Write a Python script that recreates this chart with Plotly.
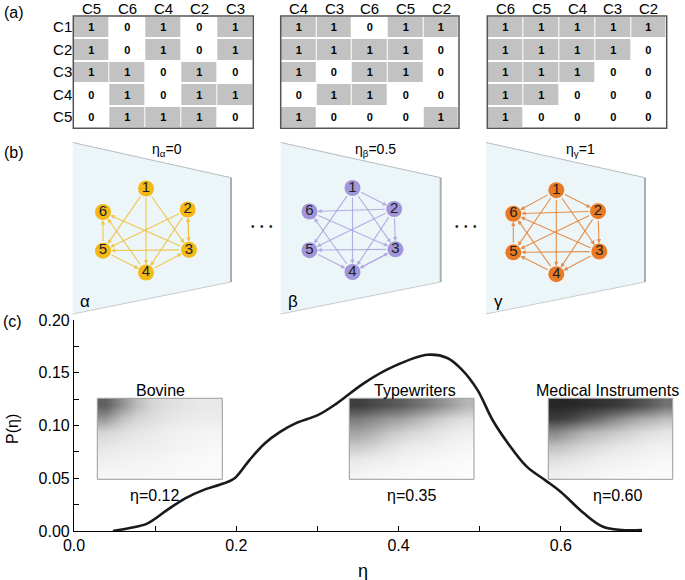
import plotly.graph_objects as go

W, H = 685, 580
FONT = "Arial, Liberation Sans, Helvetica, sans-serif"


def fx(p):
    return p / W


def fy(p):
    return 1 - p / H


# ---------------- data: panel (a) ----------------
rows = ["C1", "C2", "C3", "C4", "C5"]
m1_cols = ["C5", "C6", "C4", "C2", "C3"]
m2_cols = ["C4", "C3", "C6", "C5", "C2"]
m3_cols = ["C6", "C5", "C4", "C3", "C2"]
m1 = [[1, 0, 1, 0, 1], [1, 0, 1, 0, 1], [1, 1, 0, 1, 0], [0, 1, 0, 1, 1], [0, 1, 1, 1, 0]]
m2 = [[1, 1, 0, 1, 1], [1, 1, 1, 1, 0], [1, 0, 1, 1, 0], [0, 1, 1, 0, 0], [1, 0, 0, 0, 1]]
m3 = [[1, 1, 1, 1, 1], [1, 1, 1, 1, 0], [1, 1, 1, 0, 0], [1, 1, 0, 0, 0], [1, 0, 0, 0, 0]]

# ---------------- data: panel (b) ----------------
node_labels = ["1", "2", "3", "4", "5", "6"]
node_x = [0.0, 0.97, 1.0, 0.0, -1.0, -1.0]
node_y = [1.0, 0.5, -0.46, -1.0, -0.48, 0.44]
edges_alpha = [(1, 3), (1, 4), (1, 5), (2, 3), (3, 2), (2, 5), (2, 4), (3, 5), (3, 6),
               (4, 3), (4, 6), (5, 6), (5, 4)]
edges_beta = [(1, 2), (1, 3), (1, 4), (1, 5), (2, 6), (2, 3), (2, 5), (2, 4), (3, 5),
              (3, 4), (4, 3), (4, 6), (5, 4), (6, 3)]
edges_gamma = [(1, 6), (1, 2), (1, 5), (1, 4), (1, 3), (2, 6), (2, 5), (2, 3), (2, 4),
               (3, 5), (3, 6), (3, 4), (4, 6), (4, 5), (5, 6)]
net_sym = ["α", "β", "γ"]
net_eta = ["0", "0.5", "1"]

# ---------------- data: panel (c) ----------------
eta = [0.048, 0.070, 0.090, 0.115, 0.137, 0.160, 0.184, 0.198, 0.216, 0.235, 0.254,
       0.273, 0.301, 0.324, 0.357, 0.394, 0.436, 0.460, 0.478, 0.497, 0.516, 0.535,
       0.558, 0.581, 0.600, 0.628, 0.652, 0.675, 0.700]
p_eta = [0.000, 0.003, 0.007, 0.020, 0.031, 0.039, 0.045, 0.050, 0.067, 0.083, 0.094,
         0.102, 0.110, 0.121, 0.140, 0.156, 0.167, 0.164, 0.153, 0.134, 0.105, 0.083,
         0.061, 0.048, 0.037, 0.017, 0.004, 0.001, 0.001]
x_ticks = [0.0, 0.2, 0.4, 0.6]
y_ticks = [0.00, 0.05, 0.10, 0.15, 0.20]

inset_names = ["Bovine", "Typewriters", "Medical Instruments"]
inset_eta = ["0.12", "0.35", "0.60"]
bovine_density = [
    [0.70, 0.50, 0.30, 0.18, 0.14, 0.12, 0.10, 0.10],
    [0.45, 0.28, 0.18, 0.14, 0.11, 0.09, 0.08, 0.08],
    [0.18, 0.14, 0.11, 0.09, 0.07, 0.06, 0.05, 0.05],
    [0.11, 0.09, 0.08, 0.07, 0.06, 0.05, 0.04, 0.03],
    [0.07, 0.06, 0.05, 0.05, 0.04, 0.03, 0.03, 0.02],
    [0.04, 0.04, 0.04, 0.03, 0.03, 0.02, 0.02, 0.02],
]
typewriters_density = [
    [0.85, 0.80, 0.75, 0.70, 0.62, 0.52, 0.42, 0.32],
    [0.58, 0.52, 0.45, 0.40, 0.32, 0.24, 0.18, 0.14],
    [0.40, 0.34, 0.26, 0.20, 0.16, 0.12, 0.09, 0.07],
    [0.24, 0.20, 0.14, 0.10, 0.08, 0.07, 0.05, 0.04],
    [0.10, 0.08, 0.07, 0.05, 0.04, 0.03, 0.03, 0.02],
    [0.05, 0.04, 0.03, 0.03, 0.02, 0.02, 0.02, 0.01],
]
medical_density = [
    [0.95, 0.95, 0.92, 0.90, 0.86, 0.80, 0.72, 0.62],
    [0.85, 0.80, 0.70, 0.60, 0.50, 0.40, 0.34, 0.28],
    [0.52, 0.42, 0.33, 0.28, 0.23, 0.18, 0.14, 0.11],
    [0.28, 0.23, 0.18, 0.14, 0.11, 0.09, 0.07, 0.06],
    [0.14, 0.11, 0.09, 0.07, 0.06, 0.05, 0.04, 0.03],
    [0.07, 0.06, 0.05, 0.04, 0.03, 0.03, 0.02, 0.02],
]

# ---------------- layout geometry (pixels) ----------------
mat_x = [(73.3, 253.3), (280.7, 459.0), (487.3, 666.7)]
mat_y = (16.0, 128.3)
plane_l = [72.7, 280.7, 486.0]
plane_r = [231.0, 440.7, 645.0]
plane_tl, plane_tr, plane_br, plane_bl = 142.5, 177.7, 282.0, 314.0
net_c = [(146.0, 230.5), (352.5, 230.0), (556.3, 232.2)]
net_sx, net_sy = 43.0, 42.0
net_colors = ["#f4b916", "#a196d9", "#ea7b24"]
edge_colors = ["rgba(242,190,50,0.85)", "rgba(172,162,222,0.85)", "rgba(228,133,58,0.9)"]
inset_x = [(97.3, 222.3), (349.3, 474.0), (548.3, 672.7)]
inset_y = (398.3, 479.3)
inset_title_x = [160.0, 415.0, 607.3]
inset_label_x = [154.7, 411.7, 617.3]
main_x = (74.0, 642.0)
main_y = (320.0, 531.0)

fig = go.Figure()
layout = {}
shapes = []
ann = []


def label(xp, yp, text, size, angle=0):
    ann.append(dict(x=fx(xp), y=fy(yp), xref="paper", yref="paper", text=text,
                    xanchor="center", yanchor="middle", showarrow=False, textangle=angle,
                    font=dict(size=size, family=FONT, color="black")))


# ---------------- panel (a): matrices ----------------
for i, (cols, m) in enumerate([(m1_cols, m1), (m2_cols, m2), (m3_cols, m3)]):
    n = 5 + i
    fig.add_trace(go.Heatmap(
        z=m, x=cols, y=rows, xaxis=f"x{n}", yaxis=f"y{n}",
        colorscale=[[0, "white"], [1, "#c2c2c2"]], zmin=0, zmax=1, showscale=False,
        xgap=1, ygap=2, texttemplate="%{z}",
        textfont=dict(size=11, color="black", family=FONT, weight="bold"),
        hoverinfo="skip"))
    x0, x1 = mat_x[i]
    layout[f"xaxis{n}"] = dict(domain=[fx(x0), fx(x1)], anchor=f"y{n}",
                               showgrid=False, zeroline=False, ticks="", showline=False,
                               showticklabels=False, automargin=False)
    layout[f"yaxis{n}"] = dict(domain=[fy(mat_y[1]), fy(mat_y[0])], anchor=f"x{n}",
                               autorange="reversed", showgrid=False, zeroline=False,
                               ticks="", showline=False, showticklabels=(i == 0),
                               automargin=False,
                               tickfont=dict(size=15, family=FONT, color="black"))
    shapes.append(dict(type="rect", xref="paper", yref="paper", x0=fx(x0), x1=fx(x1),
                       y0=fy(mat_y[1]), y1=fy(mat_y[0]), line=dict(color="#555", width=1.5)))
    for c in cols:
        ann.append(dict(x=c, xref=f"x{n}", y=fy(8.5), yref="paper", text=c,
                        xanchor="center", yanchor="middle", showarrow=False,
                        font=dict(size=15, family=FONT, color="black")))

# ---------------- panel (b): networks ----------------
for i, edges in enumerate([edges_alpha, edges_beta, edges_gamma]):
    l, r = plane_l[i], plane_r[i]
    path = (f"M {fx(l)},{fy(plane_tl)} L {fx(r)},{fy(plane_tr)} L {fx(r)},{fy(plane_br)} "
            f"L {fx(l)},{fy(plane_bl)} Z")
    shapes.append(dict(type="path", xref="paper", yref="paper", path=path,
                       fillcolor="#ecf6f9", line=dict(width=0), layer="below"))
    shapes.append(dict(type="line", xref="paper", yref="paper", x0=fx(l), y0=fy(plane_tl),
                       x1=fx(r), y1=fy(plane_tr), line=dict(color="#b5bcc0", width=1), layer="below"))
    shapes.append(dict(type="line", xref="paper", yref="paper", x0=fx(l), y0=fy(plane_bl),
                       x1=fx(r), y1=fy(plane_br), line=dict(color="#c5ccd0", width=1), layer="below"))
    shapes.append(dict(type="line", xref="paper", yref="paper", x0=fx(r), y0=fy(plane_tr),
                       x1=fx(r), y1=fy(plane_br), line=dict(color="#a9aeb1", width=2), layer="below"))

    n = 8 + i
    cx, cy = net_c[i]
    hw, hh = 72.0, 62.0
    layout[f"xaxis{n}"] = dict(domain=[fx(cx - hw), fx(cx + hw)], anchor=f"y{n}",
                               range=[-hw / net_sx, hw / net_sx], visible=False,
                               automargin=False)
    layout[f"yaxis{n}"] = dict(domain=[fy(cy + hh), fy(cy - hh)], anchor=f"x{n}",
                               range=[-hh / net_sy, hh / net_sy], visible=False,
                               automargin=False)
    for s, t in edges:
        ann.append(dict(x=node_x[t - 1], y=node_y[t - 1], ax=node_x[s - 1], ay=node_y[s - 1],
                        xref=f"x{n}", yref=f"y{n}", axref=f"x{n}", ayref=f"y{n}",
                        showarrow=True, arrowhead=2, arrowsize=0.8, arrowwidth=1.1,
                        arrowcolor=edge_colors[i], standoff=8, startstandoff=8, text=""))
    fig.add_trace(go.Scatter(
        x=node_x, y=node_y, xaxis=f"x{n}", yaxis=f"y{n}", mode="markers+text",
        text=node_labels, textposition="middle center",
        textfont=dict(size=15, family=FONT, color="#222"),
        marker=dict(size=16, color=net_colors[i], line=dict(width=0)),
        hoverinfo="skip", showlegend=False))
    label((l + r) / 2 + 15, 150, f"η<sub>{net_sym[i]}</sub>={net_eta[i]}", 14)
    label(l + 12, 301, net_sym[i], 17)

for xc, yc in [(262.0, 226.0), (466.0, 227.0)]:
    ann.append(dict(x=fx(xc), y=fy(yc), xref="paper", yref="paper", xanchor="center",
                    yanchor="middle", text="•\u00a0\u00a0•\u00a0\u00a0•", showarrow=False,
                    font=dict(size=10, family=FONT, color="#222")))

# ---------------- panel (c): main curve ----------------
fig.add_trace(go.Scatter(x=eta, y=p_eta, mode="lines",
                         line=dict(color="#1a1a1a", width=2.6, shape="spline", smoothing=1.0),
                         hoverinfo="skip", showlegend=False))
layout["xaxis"] = dict(domain=[fx(main_x[0]), fx(main_x[1])], anchor="y", range=[0, 0.7],
                       tickvals=x_ticks, ticktext=[f"{v:.1f}" for v in x_ticks],
                       ticks="inside", ticklen=5, tickwidth=1, tickcolor="black",
                       minor=dict(dtick=0.1, ticks="inside", ticklen=5, tickcolor="black"),
                       showline=True, linecolor="black", linewidth=1.2,
                       showgrid=False, zeroline=False, automargin=False,
                       tickfont=dict(size=16, family=FONT, color="black"))
layout["yaxis"] = dict(domain=[fy(main_y[1]), fy(main_y[0])], anchor="x", range=[0, 0.2],
                       tickvals=y_ticks, ticktext=[f"{v:.2f}" for v in y_ticks],
                       ticks="inside", ticklen=5, tickwidth=1, tickcolor="black",
                       minor=dict(dtick=0.025, ticks="inside", ticklen=5, tickcolor="black"),
                       showline=True, linecolor="black", linewidth=1.2,
                       showgrid=False, zeroline=False, automargin=False,
                       tickfont=dict(size=16, family=FONT, color="black"))

for i, dens in enumerate([bovine_density, typewriters_density, medical_density]):
    n = 2 + i
    x0, x1 = inset_x[i]
    fig.add_trace(go.Heatmap(z=dens, xaxis=f"x{n}", yaxis=f"y{n}", zsmooth="best",
                             colorscale=[[0, "white"], [1, "#1c1c1c"]], zmin=0, zmax=1,
                             showscale=False, hoverinfo="skip"))
    layout[f"xaxis{n}"] = dict(domain=[fx(x0), fx(x1)], anchor=f"y{n}", visible=False,
                               automargin=False)
    layout[f"yaxis{n}"] = dict(domain=[fy(inset_y[1]), fy(inset_y[0])], anchor=f"x{n}",
                               autorange="reversed", visible=False, automargin=False)
    shapes.append(dict(type="rect", xref="paper", yref="paper", x0=fx(x0), x1=fx(x1),
                       y0=fy(inset_y[1]), y1=fy(inset_y[0]), line=dict(color="#9a9a9a", width=1)))
    label(inset_title_x[i], 390, inset_names[i], 16)
    label(inset_label_x[i], 495, f"η={inset_eta[i]}", 16)

# axis titles and panel labels
label(12, 429, "P(η)", 16, angle=-90)
label(363, 571, "η", 18)
label(14, 13, "(a)", 16)
label(14, 152, "(b)", 16)
label(12, 321, "(c)", 16)

fig.update_layout(width=W, height=H, margin=dict(l=0, r=0, t=0, b=0, pad=0, autoexpand=False),
                  paper_bgcolor="white", plot_bgcolor="rgba(0,0,0,0)",
                  showlegend=False, font=dict(family=FONT, color="black"),
                  shapes=shapes, annotations=ann, **layout)

fig.write_html("out.html", config={"displayModeBar": False},
               post_script="document.body.style.margin='0';document.body.style.overflow='hidden';")
